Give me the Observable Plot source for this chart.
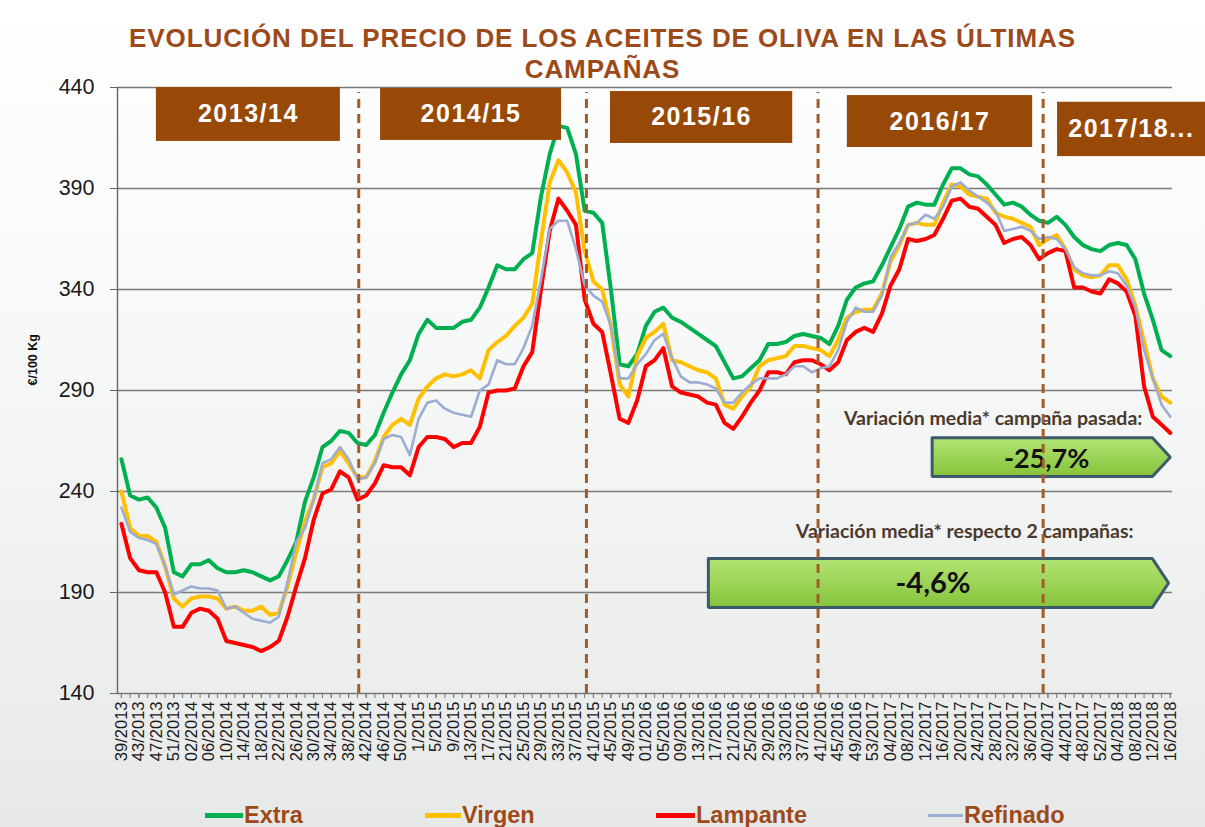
<!DOCTYPE html>
<html>
<head>
<meta charset="utf-8">
<script src="https://cdn.jsdelivr.net/npm/d3@7"></script>
<script src="https://cdn.jsdelivr.net/npm/@observablehq/plot@0.6"></script>
<style>
  body { margin: 0; }
  #wrap {
    position: relative; width: 1205px; height: 827px; overflow: hidden;
    background: linear-gradient(to bottom, #ffffff 0%, #f6f7f7 45%, #e7e9e9 100%);
    font-family: "Liberation Sans", Arial, sans-serif;
  }
  #chart { position: absolute; left: 0; top: 0; }
  #title {
    position: absolute; left: 0; top: 23px; width: 1205px; text-align: center;
    color: #9c4a1a; font-weight: bold; font-size: 26px; line-height: 31px; letter-spacing: 0.9px;
  }
  #legend { position: absolute; left: 0; top: 802px; width: 1205px; height: 27px; }
  .item { position: absolute; top: 0; height: 27px; white-space: nowrap;
    font-weight: bold; font-size: 23.5px; line-height: 27px; color: #9c4a1a; }
  .sw { position: absolute; left: 0; }
</style>
</head>
<body>
<div id="wrap">
  <div id="chart"></div>
  <div id="title">EVOLUCIÓN DEL PRECIO DE LOS ACEITES DE OLIVA EN LAS ÚLTIMAS<br>CAMPAÑAS</div>
  <div id="legend"></div>
</div>
<script>
// ---------- DATA ----------
// x-axis tick labels (one every 4 weekly slots)
const weekLabels = [
  "39/2013","43/2013","47/2013","51/2013",
  "02/2014","06/2014","10/2014","14/2014","18/2014","22/2014","26/2014","30/2014","34/2014","38/2014","42/2014","46/2014","50/2014",
  "1/2015","5/2015","9/2015","13/2015","17/2015","21/2015","25/2015","29/2015","33/2015","37/2015","41/2015","45/2015","49/2015",
  "01/2016","05/2016","09/2016","13/2016","17/2016","21/2016","25/2016","29/2016","33/2016","37/2016","41/2016","45/2016","49/2016",
  "53/2017","04/2017","08/2017","12/2017","16/2017","20/2017","24/2017","28/2017","32/2017","36/2017","40/2017","44/2017","48/2017","52/2017",
  "04/2018","08/2018","12/2018","16/2018"
];
const yTicks = [140, 190, 240, 290, 340, 390, 440];

const seriesNames = ["Extra", "Virgen", "Lampante", "Refinado"];

// prices (€/100 Kg), one reading every 2 weekly slots, from slot 0 (39/2013) to slot 240 (16/2018)
const extra = [
  256,238,236,237,232,222,200,198,204,204,
  206,202,200,200,201,200,198,196,198,206,
  215,235,247,262,265,270,269,264,263,268,
  279,289,298,305,318,325,321,321,321,324,
  325,331,341,352,350,350,355,358,386,407,
  421,420,407,379,378,373,340,303,302,308,
  322,329,331,326,324,321,318,315,312,304,
  296,297,301,305,313,313,314,317,318,317,
  316,313,322,335,341,343,344,352,361,370,
  381,383,382,382,392,400,400,397,396,392,
  387,382,383,381,377,374,373,376,372,366,
  362,360,359,362,363,362,355,338,325,310,
  307
];
const virgen = [
  240,222,218,218,215,203,187,183,187,188,
  188,187,182,183,181,181,183,179,180,193,
  210,225,236,252,254,260,254,247,247,255,
  267,273,276,273,286,292,296,298,297,298,
  300,296,310,314,317,322,326,333,364,393,
  404,398,388,359,344,340,322,293,287,307,
  316,319,323,305,304,302,300,299,296,283,
  281,287,292,302,305,306,307,312,312,311,
  310,307,315,326,329,330,330,338,354,362,
  372,373,372,372,383,392,391,387,386,385,
  378,376,375,373,371,362,365,367,360,350,
  347,346,347,352,352,345,332,314,296,287,
  284
];
const lampante = [
  224,207,201,200,200,190,173,173,180,182,
  181,177,166,165,164,163,161,163,166,178,
  193,207,226,239,241,250,247,236,238,244,
  253,252,252,248,262,267,267,266,262,264,
  264,272,289,290,290,291,302,309,340,369,
  385,379,372,335,323,319,298,276,274,285,
  302,305,311,292,289,288,287,284,283,274,
  271,277,284,290,299,299,298,304,305,305,
  303,300,304,315,319,321,319,328,342,350,
  365,364,365,367,375,384,385,381,380,376,
  372,363,365,366,362,355,358,360,359,341,
  341,339,338,345,343,339,327,292,277,273,
  269
];
const refinado = [
  232,220,217,216,214,203,189,191,193,192,
  192,191,182,183,180,177,176,175,178,195,
  215,222,236,254,256,262,256,246,247,254,
  266,268,267,258,276,284,285,281,279,278,
  277,290,293,305,303,303,311,322,345,370,
  374,374,360,342,337,334,322,296,296,303,
  308,315,318,306,297,294,294,293,291,284,
  284,289,293,296,296,296,298,302,302,299,
  301,302,310,324,331,329,329,337,356,363,
  372,373,377,375,381,391,393,389,386,383,
  379,369,370,371,369,365,366,365,360,351,
  348,347,347,349,348,342,331,310,296,283,
  277
];

const campaignLabels = ["2013/14", "2014/15", "2015/16", "2016/17", "2017/18..."];
const variationTexts = ["Variación media* campaña pasada:", "Variación media* respecto 2 campañas:"];
const variationValues = ["-25,7%", "-4,6%"];

// ---------- LAYOUT / STYLE (annotation placement in data units) ----------
const seriesColors = ["#00b050", "#ffc000", "#ff0000", "#9dadd2"];
const seriesWidths = [4, 4, 4, 2.6];
const campaignBreaks = [54.3, 106.4, 159.4, 210.9];
const campaignBoxes = [
  {x1: 8.0,   x2: 50.1,  y1: 413.3, y2: 440.0, tx: 29.05},
  {x1: 59.3,  x2: 100.7, y1: 413.8, y2: 439.5, tx: 80.0},
  {x1: 111.9, x2: 153.6, y1: 412.3, y2: 438.0, tx: 132.75},
  {x1: 166.1, x2: 208.5, y1: 410.3, y2: 436.0, tx: 187.3},
  {x1: 214.2, x2: 249.5, y1: 405.8, y2: 432.7, tx: 231.1}
];
const arrowShapes = [
  {x0: 185.5, x1: 235.9, tip: 240.0, top: 266.6, bottom: 247.4},
  {x0: 134.3, x1: 235.9, tip: 239.6, top: 206.8, bottom: 182.6}
];
const arrowTextPos = [{x: 211.7, y: 255.8, size: 27}, {x: 185.7, y: 194.2, size: 29}];
const noteTextPos = [{x: 233.6, y: 275.9}, {x: 231.6, y: 220.0}];
const legendLayout = [
  {left: 205, sw: 38}, {left: 425, sw: 36}, {left: 656, sw: 39}, {left: 928, sw: 35}
];

// ---------- BUILD ----------
const slots = d3.range(0, 241, 2);
const seriesValues = [extra, virgen, lampante, refinado];
const rows = seriesNames.map((name, k) =>
  seriesValues[k].map((v, j) => ({series: name, slot: slots[j], price: v})));

const campaigns = campaignLabels.map((label, k) => ({label, ...campaignBoxes[k]}));
const arrowPts = arrowShapes.flatMap((a, k) => {
  const mid = (a.top + a.bottom) / 2;
  return [[a.x0, a.top], [a.x1, a.top], [a.tip, mid], [a.x1, a.bottom], [a.x0, a.bottom], [a.x0, a.top]]
    .map(([x, y]) => ({id: k, x, y}));
});
const arrowLabels = variationValues.map((t, k) => ({text: t, ...arrowTextPos[k]}));
const notes = variationTexts.map((t, k) => ({text: t, ...noteTextPos[k]}));

const majorTicks = weekLabels.map((_, k) => k * 4);
const minorTicks = d3.range(0, 241, 2);

const lineMarks = seriesNames.map((name, k) =>
  Plot.line(rows[k], {x: "slot", y: "price", stroke: seriesColors[k], strokeWidth: seriesWidths[k],
    strokeLinejoin: "round", strokeLinecap: "round"}));

const chart = Plot.plot({
  width: 1205, height: 827,
  marginTop: 87, marginRight: 33, marginBottom: 134, marginLeft: 117,
  style: {background: "transparent", fontFamily: "'Liberation Sans', Arial, sans-serif", color: "#1a1a1a", overflow: "visible"},
  x: {domain: [-0.9, 240.5]},
  y: {domain: [140, 440]},
  marks: [
    Plot.ruleY(yTicks, {stroke: "#7a7a7a", strokeWidth: 1.4}),
    Plot.ruleX([-0.9], {stroke: "#666", strokeWidth: 1.4}),
    Plot.axisY({ticks: yTicks, tickSize: 7, tickPadding: 16, fontSize: 21.5, label: null, stroke: "#666"}),
    Plot.axisX({ticks: minorTicks, tickSize: 5, tickFormat: () => "", label: null, stroke: "#777"}),
    Plot.axisX({ticks: majorTicks, tickSize: 5, tickPadding: 3, tickRotate: -90, fontSize: 16.5,
      tickFormat: d => weekLabels[d / 4], label: null, stroke: "#777"}),
    ...lineMarks,
    Plot.rect(campaigns, {x1: "x1", x2: "x2", y1: "y1", y2: "y2", fill: "#984807"}),
    Plot.text(campaigns, {x: "tx", y: d => (d.y1 + d.y2) / 2, text: "label", fill: "white",
      fontSize: 25, fontWeight: "bold"}),
    Plot.line(arrowPts, {x: "x", y: "y", z: "id", fill: "url(#arrowFill)", stroke: "#3d5a6c",
      strokeWidth: 3, strokeLinejoin: "miter"}),
    Plot.text(arrowLabels, {x: "x", y: "y", text: "text", fontSize: d => d.size, fontWeight: "bold",
      fill: "#111", fontFamily: "Lato, 'Open Sans', sans-serif"}),
    Plot.text(notes, {x: "x", y: "y", text: "text", textAnchor: "end", fontSize: 19.5, fontWeight: "bold",
      fill: "#4a3a2e", fontFamily: "Lato, 'Open Sans', sans-serif"}),
    Plot.ruleX(campaignBreaks, {y1: 140, y2: 437.5, stroke: "#a35c27", strokeWidth: 3, strokeDasharray: "9,6"}),
    Plot.text(["€/100 Kg"], {frameAnchor: "left", dx: -85, dy: -5, rotate: -90, text: d => d,
      fontWeight: "bold", fontSize: 12.5, fill: "#111"})
  ]
});

const svg = d3.select(chart);
const grad = svg.insert("defs", ":first-child").append("linearGradient")
  .attr("id", "arrowFill").attr("x1", 0).attr("y1", 0).attr("x2", 0).attr("y2", 1);
grad.append("stop").attr("offset", "0%").attr("stop-color", "#b2e474");
grad.append("stop").attr("offset", "100%").attr("stop-color", "#86c33a");
// slightly spaced lettering for the campaign labels, as in the original
svg.selectAll("text").filter(function () { return campaignLabels.includes(this.textContent); })
  .style("letter-spacing", "1.5px");

document.getElementById("chart").appendChild(chart);

// legend
const legend = d3.select("#legend");
seriesNames.forEach((name, k) => {
  const L = legendLayout[k];
  const item = legend.append("div").attr("class", "item").style("left", L.left + "px");
  const th = k === 3 ? 3 : 5.5;
  item.append("span").attr("class", "sw")
    .style("width", L.sw + "px").style("height", th + "px")
    .style("top", (13.5 - th / 2) + "px").style("background", seriesColors[k]);
  item.append("span").style("margin-left", (L.sw + 1) + "px").text(name);
});
</script>
</body>
</html>
